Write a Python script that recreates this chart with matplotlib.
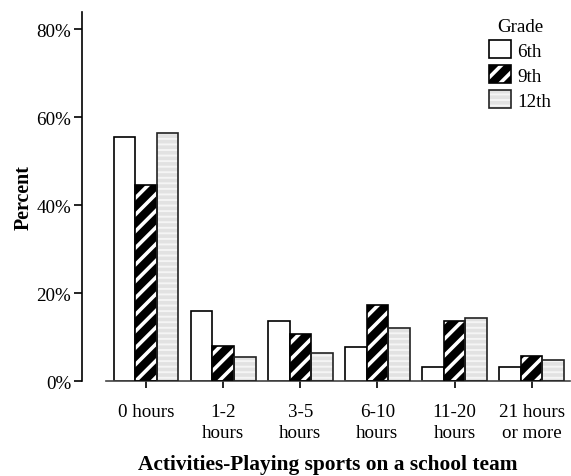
import matplotlib
matplotlib.use("Agg")
import matplotlib.pyplot as plt
import numpy as np
from matplotlib.patches import Patch
from matplotlib.legend_handler import HandlerTuple

categories = ["0 hours", "1-2\nhours", "3-5\nhours", "6-10\nhours", "11-20\nhours", "21 hours\nor more"]
grades = ["6th", "9th", "12th"]
g6 = [55.5, 16.0, 13.6, 7.8, 3.3, 3.3]
g9 = [44.5, 7.9, 10.7, 17.2, 13.6, 5.8]
g12 = [56.5, 5.5, 6.5, 12.0, 14.3, 4.7]
yticks = [0, 20, 40, 60, 80]
ytick_labels = ["0%", "20%", "40%", "60%", "80%"]

plt.rcParams['font.family'] = ['Liberation Serif', 'DejaVu Serif']
plt.rcParams['hatch.linewidth'] = 2.6

FS = 13.7

fig = plt.figure(figsize=(5.71, 4.77), dpi=100)
ax = fig.add_axes([0.1856, 0.199, 0.813, 0.774])

x = np.arange(len(categories))
w = 0.28
lw = 1.2
c12_face = '#f5f5f5'
c12_hatch = '#e2e2e2'

# 6th: white
ax.bar(x - w, g6, w, facecolor='white', edgecolor='black', linewidth=lw, zorder=2)
# 9th: black with white stripes
ax.bar(x, g9, w, facecolor='black', edgecolor='white', hatch='//', linewidth=0, zorder=2)
ax.bar(x, g9, w, fill=False, edgecolor='black', linewidth=lw, zorder=3)
# 12th: light dotted
ax.bar(x + w, g12, w, facecolor=c12_face, edgecolor=c12_hatch, hatch='---', linewidth=0, zorder=2)
ax.bar(x + w, g12, w, fill=False, edgecolor='#222222', linewidth=lw, zorder=3)

for s in ['top', 'right']:
    ax.spines[s].set_visible(False)
ax.spines['left'].set_position(('outward', 17))
ax.spines['left'].set_linewidth(1.2)
ax.spines['bottom'].set_linewidth(1.2)
ax.spines['bottom'].set_color('#444444')

ax.set_xlim(-0.52, 5.5)
ax.set_ylim(0, 84)
ax.set_xticks(x)
ax.set_xticklabels(categories, linespacing=1.3)
ax.set_yticks(yticks)
ax.set_yticklabels(ytick_labels)
ax.tick_params(axis='y', length=6, width=1.2, pad=2, labelsize=FS)
ax.tick_params(axis='x', length=5, width=1.2, pad=11, labelsize=FS)

ax.set_ylabel("Percent", fontsize=14.4, fontweight='bold', labelpad=2)
ax.set_xlabel("Activities-Playing sports on a school team", fontsize=15.4,
              fontweight='bold', labelpad=9, x=0.478)

h6 = Patch(facecolor='white', edgecolor='black', linewidth=lw)
h9 = (Patch(facecolor='black', edgecolor='white', hatch='//', linewidth=0),
      Patch(fill=False, edgecolor='black', linewidth=lw))
h12 = (Patch(facecolor=c12_face, edgecolor=c12_hatch, hatch='---', linewidth=0),
       Patch(fill=False, edgecolor='#222222', linewidth=lw))
leg = ax.legend([h6, h9, h12], grades, title="Grade", loc='upper right',
                bbox_to_anchor=(0.987, 1.02), frameon=False, fontsize=FS,
                title_fontsize=FS, handlelength=1.15, handleheight=1.1,
                handletextpad=0.3, labelspacing=0.28, borderaxespad=0.3,
                handler_map={tuple: HandlerTuple(ndivide=1, pad=0)})

fig.savefig("out.png", dpi=100)
